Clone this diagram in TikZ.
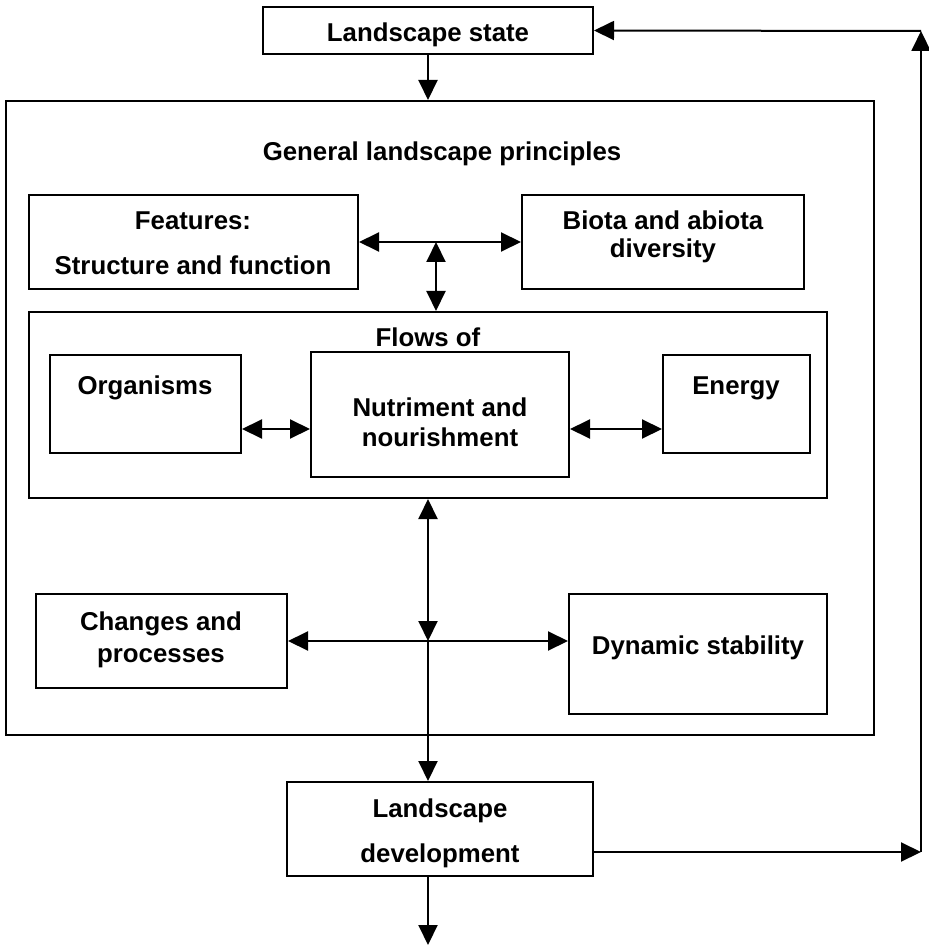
\documentclass[tikz,border=0pt]{standalone}
\usepackage{fontspec}
\setmainfont{Liberation Sans}
\usetikzlibrary{arrows.meta,fit}
\begin{document}
\begin{tikzpicture}[x=0.5pt,y=-0.5pt,line width=1pt,>={Triangle[length=10pt,width=9.5pt]},
	box/.style={draw,inner sep=0pt},
	txt/.style={inner sep=0pt,anchor=base,font=\bfseries\fontsize{12.9}{15}\selectfont}]
	\useasboundingbox (0,0) rectangle (929,946);
	% boxes
	\foreach \n/\a/\b/\c/\d in {state/263/7/593/54,big/6/101/874/735,feat/29/195/358/289,
		biota/522/195/804/289,flows/29/312/827/498,org/50/355/241/453,nut/311/352/569/477,
		energy/663/355/810/453,chg/36/594/287/688,dyn/569/594/827/714,dev/287/782/593/876}
		\node[box,fit={(\a,\b)(\c,\d)}] (\n) {};
	% texts
	\foreach \n/\x/\y/\t in {lstate/428/42/Landscape state,title/442/161/General landscape principles,
		feata/193/230/Features:,featb/193/275/Structure and function,
		biotaa/663/230/Biota and abiota,biotab/663/258/diversity,flowsof/428/346/Flows of,
		orgt/145/394/Organisms,nuta/440/416/Nutriment and,nutb/440/446/nourishment,
		energyt/736/394/Energy,chga/161/630/Changes and,chgb/161/662/processes,
		dynt/698/654/Dynamic stability,deva/440/817/Landscape,devb/440/862/development}
		\node[txt] (\n) at (\x,\y) {\t};
	\path (436,242) coordinate (j1) (428,641) coordinate (j2) (0,429) coordinate (r)
		(921,852) coordinate (fb) (921,31) coordinate (fbtop) (428,945) coordinate (out);
	% connectors
	\draw[->] (state.south) -- (state.south |- big.north);
	\draw[<->] (feat) -- (biota);
	\draw[<->] (j1) -- (j1 |- flows.north);
	\draw[<->] (org.east |- r) -- (nut.west |- r);
	\draw[<->] (nut.east |- r) -- (energy.west |- r);
	\draw[<->] (j2 |- flows.south) -- (j2);
	\draw[->] (j2) -- (chg.east |- j2);
	\draw[->] (j2) -- (dyn.west |- j2);
	\draw[->] (j2) -- (j2 |- dev.north);
	\draw[->] (out |- dev.south) -- (out);
	\draw[->] (dev.east |- fb) -- (fb);
	\draw[->] (fb) -- (fbtop);
	\draw[->] (fbtop) -- (state.east);
\end{tikzpicture}
\end{document}
